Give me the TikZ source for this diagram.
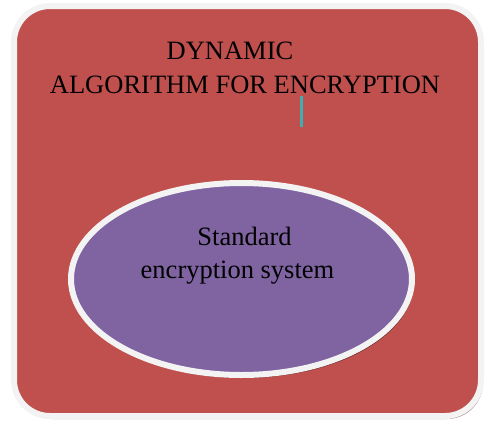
\documentclass[tikz,border=0pt]{standalone}
\usepackage{fontspec}
\setmainfont{Liberation Serif}
\usepackage{tikz}
\usetikzlibrary{shapes.geometric, shadows}
\definecolor{boxred}{RGB}{192, 80, 77}
\definecolor{ovalpurple}{RGB}{128, 100, 162}
\definecolor{rimwhite}{RGB}{243, 243, 243}
\definecolor{markteal}{RGB}{60, 175, 178}

\begin{document}
\begin{tikzpicture}[x=1pt, y=-1pt]
\useasboundingbox (0,0) rectangle (487,426);
% Outer box
\node[draw=rimwhite, line width=6pt, fill=boxred, rounded corners=36pt,
      minimum width=467pt, minimum height=410pt, inner sep=0pt,
      drop shadow={shadow xshift=2pt, shadow yshift=-3pt, fill=black!60!boxred, opacity=0.5}]
      (box) at (247.5,211) {};
\node[font=\fontsize{26.5}{30}\selectfont, anchor=base] (title1) at (230,59) {DYNAMIC};
\node[font=\fontsize{26.5}{30}\selectfont, anchor=base] (title2) at (245,93) {ALGORITHM FOR ENCRYPTION};
\draw[markteal, line width=3pt] (301,96) -- (301,127);

% Inner oval
\node[ellipse, draw=rimwhite, line width=6pt, fill=ovalpurple,
      minimum width=341pt, minimum height=192pt, inner sep=0pt,
      drop shadow={shadow xshift=2pt, shadow yshift=-3pt, fill=black, opacity=0.5}]
      (oval) at (241.5,279) {};
\node[font=\fontsize{26.5}{30}\selectfont, anchor=base] (oval1) at (244.5,245) {Standard};
\node[font=\fontsize{26.5}{30}\selectfont, anchor=base] (oval2) at (237.5,278) {encryption system};
\end{tikzpicture}
\end{document}
